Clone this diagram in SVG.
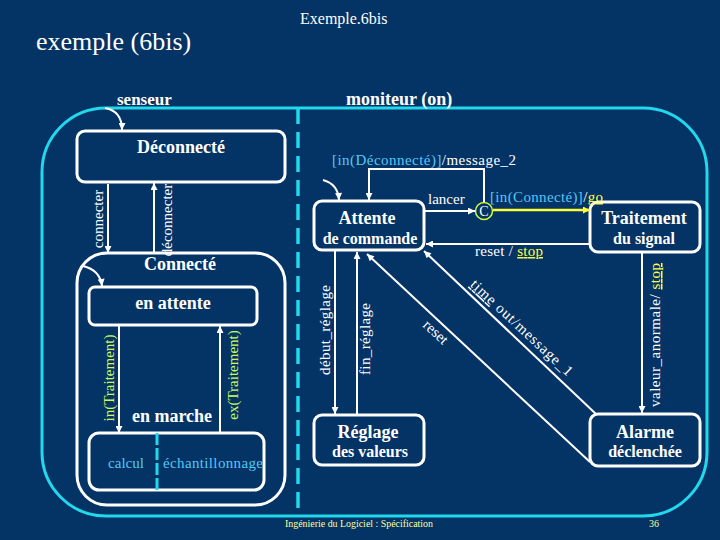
<svg xmlns="http://www.w3.org/2000/svg" width="720" height="540" viewBox="0 0 720 540">
<defs>
<style>
text{font-family:"Liberation Serif","Times New Roman",serif;}
.box{fill:none;stroke:#ffffff;stroke-width:3;}
.cn{fill:none;stroke:#ffffff;stroke-width:2;}
.cy{fill:none;stroke:#ffff33;stroke-width:2.5;}
.b18{font-size:18px;font-weight:bold;fill:#ffffff;text-anchor:middle;}
.b16{font-size:16px;font-weight:bold;fill:#ffffff;text-anchor:middle;}
.lb{font-size:15px;fill:#ffffff;}
.blue{fill:#55c8f5;}
.yg{fill:#ccff55;}
.yel{fill:#ffff44;text-decoration:underline;}
.dash{stroke:#22d8ec;stroke-width:3.5;stroke-dasharray:16 8;fill:none;}
</style>
<marker id="ah" viewBox="0 0 10 10" refX="10" refY="5" markerWidth="9" markerHeight="7" markerUnits="userSpaceOnUse" orient="auto">
<path d="M0,0 L10,5 L0,10 z" fill="#ffffff"/>
</marker>
<marker id="ahy" viewBox="0 0 10 10" refX="10" refY="5" markerWidth="9" markerHeight="7" markerUnits="userSpaceOnUse" orient="auto">
<path d="M0,0 L10,5 L0,10 z" fill="#ffff33"/>
</marker>
</defs>
<rect x="0" y="0" width="720" height="540" fill="#043366"/>

<text x="300" y="24" font-size="16" fill="#ffffff">Exemple.6bis</text>
<text x="36" y="50" font-size="26" fill="#ffffff">exemple (6bis)</text>

<g id="outer">
<rect x="42" y="108" width="665" height="408" rx="64" ry="64" fill="none" stroke="#22d8ec" stroke-width="3"/>
<line x1="298" y1="108" x2="298" y2="516" class="dash"/>
<text x="117" y="105" font-size="17" font-weight="bold" fill="#ffffff">senseur</text>
<text x="346" y="105" font-size="18" font-weight="bold" fill="#ffffff">moniteur (on)</text>
</g>

<g id="deconnecte">
<rect class="box" x="77" y="131" width="208" height="51" rx="8"/>
<text class="b18" x="181" y="153">Déconnecté</text>
</g>

<g id="connecte">
<rect class="box" x="77" y="253" width="208" height="252" rx="30"/>
<text class="b18" x="180" y="270">Connecté</text>
</g>

<g id="en_attente">
<rect class="box" x="89" y="287" width="168" height="38" rx="6"/>
<text class="b18" x="173" y="309">en attente</text>
</g>

<g id="en_marche">
<text class="b18" x="172" y="422">en marche</text>
<rect class="box" x="89" y="433" width="175" height="57" rx="10"/>
<line x1="157" y1="433" x2="157" y2="490" stroke="#22d8ec" stroke-width="3" stroke-dasharray="12 3"/>
<text class="blue" x="126" y="468" font-size="15" text-anchor="middle">calcul</text>
<text class="blue" x="163" y="468" font-size="15" textLength="100" lengthAdjust="spacing">échantillonnage</text>
</g>

<g id="attente">
<rect class="box" x="314" y="201" width="110" height="49" rx="8"/>
<text class="b18" x="367" y="224">Attente</text>
<text class="b16" x="370" y="244">de commande</text>
</g>

<g id="choice">
<circle cx="484" cy="211" r="8.5" fill="none" stroke="#ccff33" stroke-width="1.5"/>
<text x="484" y="216" font-size="14" fill="#ffffff" text-anchor="middle">C</text>
</g>

<g id="traitement">
<rect class="box" x="590" y="202" width="110" height="50" rx="8"/>
<text class="b18" x="644" y="224">Traitement</text>
<text class="b16" x="644" y="244">du signal</text>
</g>

<g id="reglage">
<rect class="box" x="314" y="415" width="110" height="50" rx="8"/>
<text class="b18" x="368" y="438">Réglage</text>
<text class="b16" x="370" y="457">des valeurs</text>
</g>

<g id="alarme">
<rect class="box" x="590" y="414" width="110" height="52" rx="8"/>
<text class="b18" x="645" y="438">Alarme</text>
<text class="b16" x="645" y="457">déclenchée</text>
</g>

<g id="connectors">
<path class="cn" d="M105,108 Q122,111 122,130" marker-end="url(#ah)"/>
<path class="cn" d="M83,266 Q100,270 102,286" marker-end="url(#ah)"/>
<path class="cn" d="M323,180 Q338,184 339,200" marker-end="url(#ah)"/>

<line class="cn" x1="108" y1="184" x2="108" y2="253" marker-end="url(#ah)"/>
<line class="cn" x1="154" y1="253" x2="154" y2="183" marker-end="url(#ah)"/>
<text class="lb" transform="translate(103,219) rotate(-90)" text-anchor="middle">connecter</text>
<text class="lb" transform="translate(172,220) rotate(-90)" text-anchor="middle">déconnecter</text>

<line class="cn" x1="119" y1="326" x2="119" y2="433" marker-end="url(#ah)"/>
<line class="cn" x1="220" y1="433" x2="220" y2="326" marker-end="url(#ah)"/>
<text class="lb yg" transform="translate(114,378) rotate(-90)" text-anchor="middle">in(Traitement)</text>
<text class="lb yg" transform="translate(238,375) rotate(-90)" text-anchor="middle">ex(Traitement)</text>

<path class="cn" d="M484,202 V169 H369 V200" marker-end="url(#ah)"/>
<text class="lb" x="332" y="165" textLength="184" lengthAdjust="spacing"><tspan class="blue">[in(Déconnecté)]</tspan>/message_2</text>

<line class="cn" x1="425" y1="211" x2="475" y2="211" marker-end="url(#ah)"/>
<text class="lb" x="428" y="204">lancer</text>

<line class="cy" x1="493" y1="210" x2="590" y2="210" marker-end="url(#ahy)"/>
<text class="lb" x="490" y="202" textLength="113" lengthAdjust="spacing"><tspan class="blue">[in(Connecté)]</tspan>/<tspan class="yel">go</tspan></text>

<line class="cn" x1="590" y1="244" x2="426" y2="244" marker-end="url(#ah)"/>
<text class="lb" x="475" y="256" textLength="68" lengthAdjust="spacing">reset / <tspan class="yel">stop</tspan></text>

<line class="cn" x1="642" y1="253" x2="642" y2="413" marker-end="url(#ah)"/>
<text class="lb" transform="translate(660,335) rotate(-90)" text-anchor="middle" textLength="144" lengthAdjust="spacing">valeur_anormale/ <tspan class="yel">stop</tspan></text>

<line class="cn" x1="335" y1="251" x2="335" y2="414" marker-end="url(#ah)"/>
<line class="cn" x1="357" y1="415" x2="357" y2="252" marker-end="url(#ah)"/>
<text class="lb" transform="translate(330,330) rotate(-90)" text-anchor="middle" textLength="90" lengthAdjust="spacing">début_réglage</text>
<text class="lb" transform="translate(370,339) rotate(-90)" text-anchor="middle" textLength="72" lengthAdjust="spacing">fin_réglage</text>

<line class="cn" x1="590" y1="462" x2="367" y2="254" marker-end="url(#ah)"/>
<text class="lb" transform="translate(442.7,324.7) rotate(43)" y="15" text-anchor="middle">reset</text>

<line class="cn" x1="596" y1="414" x2="424" y2="251" marker-end="url(#ah)"/>
<text class="lb" transform="translate(514,336) rotate(43)" y="-6.5" text-anchor="middle" textLength="134" lengthAdjust="spacing"><tspan text-decoration="underline">time</tspan> out/message_1</text>
</g>

<text x="285" y="527" font-size="10" fill="#ffff99" textLength="148" lengthAdjust="spacingAndGlyphs">Ingénierie du Logiciel : Spécification</text>
<text x="649" y="527" font-size="10" fill="#ffff99">36</text>
</svg>
